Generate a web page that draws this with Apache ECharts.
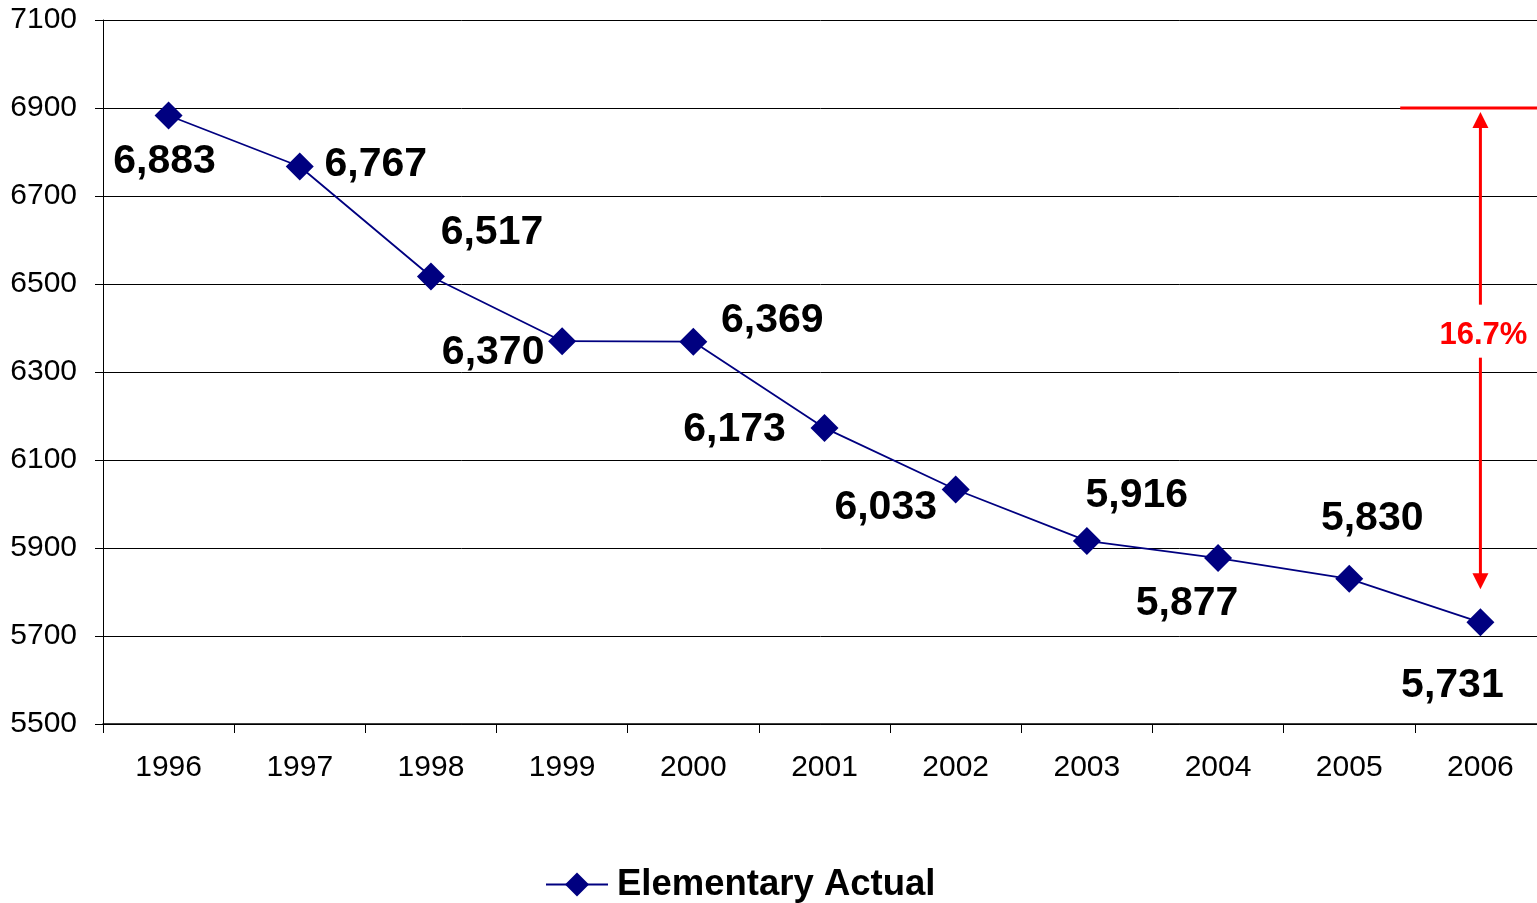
<!DOCTYPE html>
<html>
<head>
<meta charset="utf-8">
<script src="https://cdn.jsdelivr.net/npm/echarts@6/dist/echarts.min.js"></script>
<style>
html,body{margin:0;padding:0;background:#fff;}
#chart{width:1537px;height:903px;}
</style>
</head>
<body>
<div id="chart"></div>
<script>
// ---- data ----
var years = ['1996','1997','1998','1999','2000','2001','2002','2003','2004','2005','2006'];
var elementaryActual = [6883, 6767, 6517, 6370, 6369, 6173, 6033, 5916, 5877, 5830, 5731];
var seriesName = 'Elementary Actual';
var yTicks = {min: 5500, max: 7100, interval: 200};
var changeTopValue = 6900;
var changeBottomValue = 5731;
var changeLabel = '16.7%';

// ---- layout (label offsets relative to point) ----
var labelOffsets = [[-4,46],[76,-2],[61,-44],[-69,11],[79,-21],[-90,2],[-70,18],[50,-45],[-31,46],[23,-60],[-28,63]];

var FONT = '"Liberation Sans", Arial, sans-serif';
var chart = echarts.init(document.getElementById('chart'));

var seriesData = elementaryActual.map(function (v, i) {
  return {value: v, label: {offset: labelOffsets[i]}};
});

chart.setOption({
  animation: false,
  backgroundColor: '#fff',
  textStyle: {fontFamily: FONT},
  grid: {left: 103, width: 1443, top: 20, bottom: 179, containLabel: false, outerBoundsMode: 'none'},
  legend: {
    data: [seriesName],
    left: 545, top: 866, padding: 0,
    itemWidth: 62, itemHeight: 30, itemGap: 15,
    textStyle: {fontSize: 36.5, fontWeight: 'bold', color: '#000', fontFamily: FONT, padding: [0, 0, 0, 4]}
  },
  xAxis: {
    type: 'category',
    data: years,
    boundaryGap: true,
    axisLine: {lineStyle: {color: '#000', width: 1.5}},
    axisTick: {show: true, length: 9, interval: 0, lineStyle: {color: '#000'}},
    axisLabel: {fontSize: 30, color: '#000', margin: 29, fontFamily: FONT, interval: 0}
  },
  yAxis: {
    type: 'value',
    min: yTicks.min, max: yTicks.max, interval: yTicks.interval,
    axisLine: {show: true, lineStyle: {color: '#000', width: 1}},
    axisTick: {show: true, length: 8, lineStyle: {color: '#000'}},
    axisLabel: {fontSize: 30, color: '#000', margin: 26, fontFamily: FONT, formatter: function (v) { return String(v); }},
    splitLine: {show: true, lineStyle: {color: '#000', width: 1}}
  },
  series: [{
    name: seriesName,
    type: 'line',
    data: seriesData,
    symbol: 'diamond',
    symbolSize: 28,
    itemStyle: {color: '#000080'},
    lineStyle: {color: '#000080', width: 1.8},
    label: {
      show: true,
      position: 'inside',
      fontSize: 41,
      fontWeight: 'bold',
      color: '#000',
      fontFamily: FONT,
      formatter: function (p) { return p.value.toLocaleString('en-US'); }
    },
    z: 3
  }]
});

// ---- annotation: percentage change arrow ----
var last = years.length - 1;
var pTop = chart.convertToPixel({gridIndex: 0}, [last, changeTopValue]);
var pBot = chart.convertToPixel({gridIndex: 0}, [last, changeBottomValue]);
var prev = chart.convertToPixel({gridIndex: 0}, [last - 1, changeTopValue]);
var x = pTop[0];
var arrowTopTip = pTop[1] + 4;
var arrowBotTip = pBot[1] - 33;
var textY = (arrowTopTip + arrowBotTip) / 2 - 15;
var red = '#ff0000';
chart.setOption({
  graphic: [
    {type: 'line', shape: {x1: prev[0] + 51, y1: pTop[1], x2: 1537, y2: pTop[1]}, style: {stroke: red, lineWidth: 3}, z: 10},
    {type: 'line', shape: {x1: x, y1: arrowTopTip + 14, x2: x, y2: textY - 31}, style: {stroke: red, lineWidth: 3}, z: 10},
    {type: 'polygon', shape: {points: [[x, arrowTopTip], [x - 8, arrowTopTip + 16], [x + 8, arrowTopTip + 16]]}, style: {fill: red}, z: 10},
    {type: 'line', shape: {x1: x, y1: textY + 22, x2: x, y2: arrowBotTip - 14}, style: {stroke: red, lineWidth: 3}, z: 10},
    {type: 'polygon', shape: {points: [[x, arrowBotTip], [x - 8, arrowBotTip - 16], [x + 8, arrowBotTip - 16]]}, style: {fill: red}, z: 10},
    {type: 'text', x: x + 3, y: textY, style: {text: changeLabel, fill: red, font: 'bold 31px ' + FONT, textAlign: 'center', textVerticalAlign: 'middle'}, z: 10}
  ]
});
</script>
</body>
</html>
